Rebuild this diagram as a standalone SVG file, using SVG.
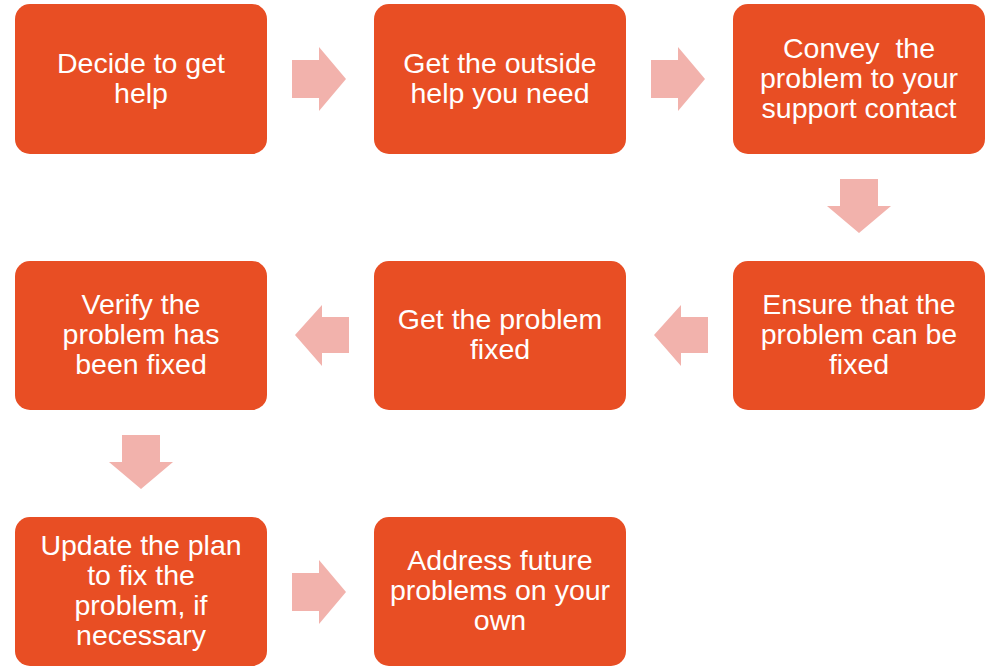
<svg xmlns="http://www.w3.org/2000/svg" width="1000" height="671" viewBox="0 0 1000 671">
<style>
.box{fill:#E84E24;}
.t{fill:#fff;font-family:"Liberation Sans",Arial,sans-serif;font-size:28.5px;text-anchor:middle;}
.arr{fill:#F2B2AC;}
</style>
<rect width="1000" height="671" fill="#fff"/>
<g id="connectors">
<polygon class="arr" points="292,60 319,60 319,47 346,79 319,111 319,98 292,98"/>
<polygon class="arr" points="651,60 678,60 678,47 705,79 678,111 678,98 651,98"/>
<polygon class="arr" points="840,179 878,179 878,206 891,206 859,233 827,206 840,206"/>
<polygon class="arr" points="708,317 681,317 681,305 654,335 681,366 681,353 708,353"/>
<polygon class="arr" points="349,317 322,317 322,305 295,335 322,366 322,353 349,353"/>
<polygon class="arr" points="122,435 160,435 160,462 173,462 141,489 109,462 122,462"/>
<polygon class="arr" points="292,573 319,573 319,560 346,592 319,624 319,611 292,611"/>
</g>
<g id="n1"><rect class="box" x="15" y="4" width="252" height="150" rx="15"/>
<text class="t" x="141" y="73">Decide to get</text><text class="t" x="141" y="103">help</text></g>
<g id="n2"><rect class="box" x="374" y="4" width="252" height="150" rx="15"/>
<text class="t" x="500" y="73">Get the outside</text><text class="t" x="500" y="103">help you need</text></g>
<g id="n3"><rect class="box" x="733" y="4" width="252" height="150" rx="15"/>
<text class="t" x="859" y="58" xml:space="preserve">Convey  the</text><text class="t" x="859" y="88">problem to your</text><text class="t" x="859" y="118">support contact</text></g>
<g id="n4"><rect class="box" x="733" y="261" width="252" height="149" rx="15"/>
<text class="t" x="859" y="314">Ensure that the</text><text class="t" x="859" y="344">problem can be</text><text class="t" x="859" y="374">fixed</text></g>
<g id="n5"><rect class="box" x="374" y="261" width="252" height="149" rx="15"/>
<text class="t" x="500" y="329">Get the problem</text><text class="t" x="500" y="359">fixed</text></g>
<g id="n6"><rect class="box" x="15" y="261" width="252" height="149" rx="15"/>
<text class="t" x="141" y="314">Verify the</text><text class="t" x="141" y="344">problem has</text><text class="t" x="141" y="374">been fixed</text></g>
<g id="n7"><rect class="box" x="15" y="517" width="252" height="149" rx="15"/>
<text class="t" x="141" y="555">Update the plan</text><text class="t" x="141" y="585">to fix the</text><text class="t" x="141" y="615">problem, if</text><text class="t" x="141" y="645">necessary</text></g>
<g id="n8"><rect class="box" x="374" y="517" width="252" height="149" rx="15"/>
<text class="t" x="500" y="570">Address future</text><text class="t" x="500" y="600">problems on your</text><text class="t" x="500" y="630">own</text></g>
</svg>
